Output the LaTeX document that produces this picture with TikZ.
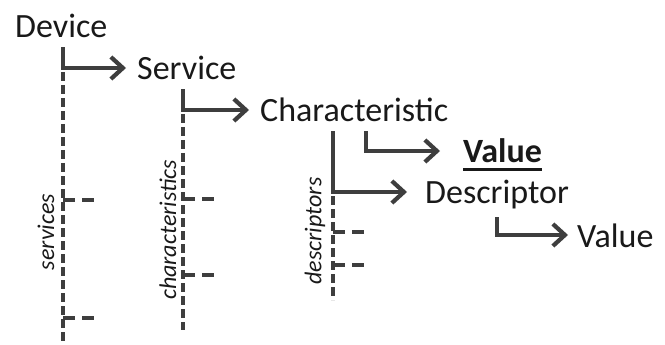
\documentclass[tikz,border=0pt]{standalone}
\usepackage{fontspec}
\setmainfont{Carlito}
\usetikzlibrary{arrows.meta}
\definecolor{ink}{RGB}{25,25,25}
\definecolor{wire}{RGB}{62,62,62}
\newcommand{\thickul}[1]{\setbox0\hbox{#1}\rlap{\raisebox{-7.5pt}{\rule{\wd0}{3pt}}}\box0}

\begin{document}
\begin{tikzpicture}[x=1pt,y=-1pt,
  attr/.style={anchor=base west,inner xsep=9pt,inner ysep=9pt,text height=24pt,
    text depth=0pt,text=ink,font=\fontsize{34}{40}\selectfont},
  conn/.style={draw=wire,line width=4.2pt,-{Straight Barb[length=12pt,width=22pt]}},
  trunk/.style={draw=wire,line width=4.2pt,dash pattern=on 9pt off 4pt,dash phase=9pt},
  twig/.style={draw=wire,line width=4.2pt,dash pattern=on 12pt off 7pt},
  group/.style={rotate=90,text=ink,font=\fontsize{24}{28}\selectfont\itshape}]
\useasboundingbox (0,0) rectangle (665,345);

\node[attr] (dev) at (6,38) {Device};
\node[attr] (srv) at (128,80) {Service};
\node[attr] (chr) at (251,122) {Characteristic};
\node[attr] (val) at (454,163) {\thickul{\textbf{Value}}};
\node[attr] (dsc) at (416,204) {Descriptor};
\node[attr] (dval) at (568,247) {Value};

\path ([xshift=57pt]dev.south west) coordinate (d0)
      ([xshift=55pt]srv.south west) coordinate (s0)
      ([xshift=82pt]chr.south west) coordinate (c0)
      ([xshift=115pt]chr.south west) coordinate (c1)
      ([xshift=81pt,yshift=-4pt]dsc.south west) coordinate (e0);

\draw[conn] (d0) |- ([xshift=-2pt]srv.west);
\draw[conn] (s0) |- ([xshift=-2pt]chr.west);
\draw[conn] (c1) |- ([xshift=-14pt]val.west);
\draw[conn] (c0) |- ([xshift=-9pt]dsc.west);
\draw[conn] (e0) |- (dval.west);

% lists
\draw[trunk] (d0 |- srv.west) -- (d0 |- 0,345);
\draw[twig] (d0 |- 0,200) -- ++(32,0);
\draw[twig] (d0 |- 0,318) -- ++(32,0);
\node[group] (svcs) at (46,232) {services};

\draw[trunk] (s0 |- chr.west) -- (s0 |- 0,330);
\draw[twig] (s0 |- 0,199) -- ++(32,0);
\draw[twig] (s0 |- 0,275) -- ++(32,0);
\node[group] (chrs) at (168,230) {characteristics};

\draw[trunk] (c0 |- dsc.west) -- (c0 |- 0,300);
\draw[twig] (c0 |- 0,232) -- ++(32,0);
\draw[twig] (c0 |- 0,265) -- ++(32,0);
\node[group] (dscs) at (315,231) {descriptors};
\end{tikzpicture}
\end{document}
